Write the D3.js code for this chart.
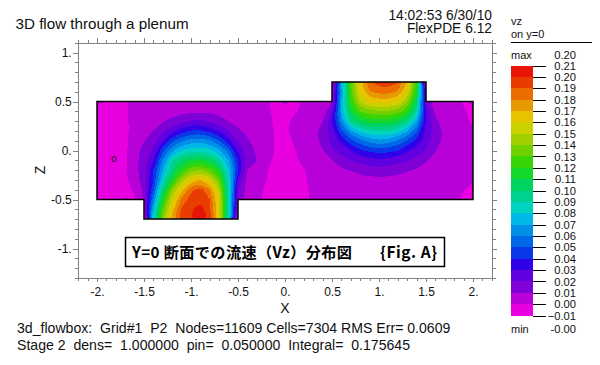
<!DOCTYPE html>
<html>
<head>
<meta charset="utf-8">
<script src="https://cdn.jsdelivr.net/npm/d3@7"></script>
<style>
	body { margin: 0; background: #fff; }
	text { font-family: "Liberation Sans", Arial, sans-serif; fill: #111; white-space: pre; }
	.axis path, .axis line { stroke: #808080; stroke-width: 1; shape-rendering: crispEdges; }
	.axis text { font-size: 12px; fill: #111; }
</style>
</head>
<body>
<div id="chart"></div>
<script>
	// vz on y=0, one row per z from 0.7 down to -0.7, x from -2 to 2 by 0.1
	var xGrid = d3.range(41).map(function(i){ return -2 + i / 10; });
	var zGrid = d3.range(15).map(function(j){ return 0.7 - j / 10; });
	var vz = [
		[0,0,0,0,0, 0,0,0,0,0,0,0,0,0,0, 0,0,0,0,0,0,0,0,0,0, .006,.073,.133,.167,.189,.196,.197,.192,.17,.127, .015,0,0,0,0,0],
		[0,0,0,0,0, 0,0,0,0,0,0,0,0,0,0, 0,0,0,0,0,0,0,0,0,0, .006,.068,.125,.161,.179,.184,.184,.179,.16,.117, .015,0,0,0,0,0],
		[.001,-.001,-.002,-.0005,.001, .002,.002,.003,.003,.003,.004,.004,.004,.003,.003, .003,.002,.002,.0005,-.001,.001,-.001,.0002,.001,-.001, .009,.07,.123,.152,.163,.165,.165,.161,.143,.105, .018,.002,.002,.001,-.0005,.001],
		[-.002,-.002,-.002,-.0005,.001, .002,.003,.004,.005,.007,.008,.0085,.008,.007,.006, .005,.004,.002,.0005,-.0005,-.001,-.0005,.001,.001,.004, .021,.072,.11,.131,.137,.139,.139,.135,.122,.092, .03,.007,.003,.001,.0005,-.001],
		[-.002,-.002,-.002,-.0005,.001, .004,.006,.009,.013,.017,.021,.0215,.0185,.0142,.0098, .0068,.0045,.003,.001,-.0005,-.001,.001,.001,.004,.0095, .03,.0645,.097,.1085,.115,.116,.1155,.11,.0995,.0725, .03,.0125,.005,.002,.001,-.001],
		[-.002,-.002,-.002,-.002,.003, .0072,.0102,.0175,.0275,.0345,.041,.042,.0365,.0295,.0195, .0115,.008,.005,.002,-.0005,-.001,.002,.002,.0065,.014, .025,.048,.0685,.0825,.0895,.092,.0905,.084,.072,.0525, .0265,.0165,.0075,.003,.001,.0005],
		[-.002,-.002,-.002,-.002,.005, .0095,.0165,.029,.0465,.0585,.0645,.066,.0615,.0505,.034, .0185,.011,.0068,.002,-.0002,-.003,.001,.002,.006,.013, .0235,.033,.047,.0565,.0645,.068,.066,.0585,.0495,.037, .025,.0155,.007,.003,.001,.001],
		[-.002,-.002,-.002,-.002,.007, .0132,.0225,.047,.068,.0805,.0865,.087,.083,.0725,.055, .0285,.0155,.0085,.003,-.0005,-.003,-.0005,.002,.005,.0095, .018,.024,.03,.039,.0425,.045,.0435,.04,.0315,.0255, .0195,.0105,.006,.0025,.001,.001],
		[-.002,-.002,-.002,-.002,.007, .0144,.029,.062,.09,.105,.111,.113,.107,.092,.0705, .039,.017,.01,.002,-.001,-.003,-.001,.002,.0035,.0062, .0098,.0157,.0205,.023,.026,.028,.0265,.0235,.021,.0169, .011,.007,.004,.002,.0005,.0002],
		[-.002,-.002,-.002,-.0005,.006, .017,.04,.071,.1,.12,.137,.14,.132,.115,.08, .042,.01,.003,.0005,-.003,-.004,-.003,-.0005,.002,.0045, .0065,.0085,.0105,.013,.0155,.0167,.016,.0135,.011,.009, .007,.004,.002,.001,.0005,.0005],
		[-.002,-.002,-.002,-.002,.005, .015,.04,.083,.115,.145,.165,.17,.16,.133,.085, .028,.008,.003,.0002,-.004,-.004,-.004,-.001,.002,.003, .004,.005,.006,.0065,.007,.007,.007,.0065,.006,.005, .004,.003,.002,.001,.0005,.0005],
		[-.002,-.002,-.002,-.002,.001, .012,.048,.1,.14,.165,.188,.195,.18,.15,.09, .02,.006,.002,-.001,-.004,-.004,-.004,-.001,.001,.002, .003,.003,.003,.003,.003,.003,.003,.003,.003,.003, .003,.003,.002,.001,.0001,-.001],
		[-.002,-.002,-.002,.001,-.001, .012,.06,.115,.155,.183,.194,.197,.19,.16,.088, .018,.005,.001,-.001,-.003,-.003,-.003,-.001,.0005,.001, .002,.002,.002,.002,.002,.002,.002,.002,.002,.002, .002,.002,.001,.0005,-.0005,-.001],
		[0,0,0,0,.0005, .006,.075,.13,.165,.192,.199,.206,.19,.155,.088, .008,.001,0,0,0,0,0,0,0,0, 0,0,0,0,0,0,0,0,0,0, 0,0,0,0,0,0],
		[0,0,0,0,0, .005,.085,.14,.175,.195,.199,.215,.197,.165,.09, .006,.001,0,0,0,0,0,0,0,0, 0,0,0,0,0,0,0,0,0,0, 0,0,0,0,0,0]
	];

	var levels = [-.01,0,.01,.02,.03,.04,.05,.06,.07,.08,.09,.10,.11,.12,.13,.14,.15,.16,.17,.18,.19,.20];
	var levelColors = ["#e800e0","#b800d8","#8000d8","#6000e0","#3000e8","#0838e8","#0068e8","#0090e8","#00b8e8","#00d4c0","#00d090","#00d460","#14d82c","#38d408","#70d000","#a0d000","#ccd000","#e8c400","#e89800","#ec6c00","#e83c00","#e81408"];
	var legendTicks = [.21,.20,.19,.18,.17,.16,.15,.14,.13,.12,.11,.10,.09,.08,.07,.06,.05,.04,.03,.02,.01,0,-.01];

	// outline of the plenum, x and z
	var plenum = [[-2,.5],[-2,-.5],[-1.5,-.5],[-1.5,-.7],[-.5,-.7],[-.5,-.5],[2,-.5],[2,.5],[1.5,.5],[1.5,.7],[.5,.7],[.5,.5]];

	var xMajor = [-2,-1.5,-1,-.5,0,.5,1,1.5,2];
	var zMajor = [1,.5,0,-.5,-1];
	var xMinor = d3.range(-22, 23).map(function(d){ return d / 10; });
	var zMinor = d3.range(-13, 12).map(function(d){ return d / 10; });

	var wd = 600;
	var ht = 365;

	var svg = d3.select("#chart").append("svg")
		.attr("width", wd)
		.attr("height", ht)
		.style("display", "block");

	var x = d3.scaleLinear().domain([-2.2, 2.2]).range([78.2, 491.8]);
	var z = d3.scaleLinear().domain([1.1, -1.3]).range([42.7, 277.9]);
	var legendY = d3.scaleLinear().domain([.21, -.01]).range([65.5, 315.5]);

	function translate(xIn, yIn){
		return "translate(" + xIn + "," + yIn + ")";
	}

	var outline = d3.line().x(function(d){ return x(d[0]); }).y(function(d){ return z(d[1]); }).curve(d3.curveLinearClosed);

	// contour rings come back in grid cells, round them off through the data scales
	var ringLine = d3.line()
		.x(function(d){ return x(-2 + (d[0] - .5) / 10); })
		.y(function(d){ return z(.7 - (d[1] - .5) / 10); })
		.curve(d3.curveBasisClosed);

	function bandPath(contour){
		return contour.coordinates.map(function(poly){
			return poly.map(function(ring){ return ringLine(ring.slice(0, -1)); }).join("");
		}).join("");
	}

	svg.append("clipPath").attr("id", "inside").append("path").attr("d", outline(plenum));

	var field = svg.append("g").attr("clip-path", "url(#inside)");

	field.append("path")
		.attr("d", outline(plenum))
		.attr("fill", levelColors[0]);

	var contours = d3.contours()
		.size([xGrid.length, zGrid.length])
		.thresholds(levels.slice(1))(d3.merge(vz));

	field.selectAll("path.band")
		.data(contours)
		.enter().append("path")
		.attr("class", "band")
		.attr("d", bandPath)
		.attr("fill-rule", "evenodd")
		.attr("fill", function(d, i){ return levelColors[i + 1]; })
		.attr("shape-rendering", "crispEdges");

	// the two small plot marks
	field.append("text").attr("x", x(-1.82)).attr("y", z(-.117)).attr("text-anchor", "middle")
		.style("font-size", "9.5px").text("0");
	field.append("text").attr("x", x(-.925)).attr("y", z(-.74)).attr("text-anchor", "middle")
		.style("font-size", "9.5px").text("x");

	svg.append("path")
		.attr("d", outline(plenum))
		.attr("fill", "none")
		.attr("stroke", "#000")
		.attr("stroke-width", 1.5);

	// Axes, minor ticks first and the labelled ones on top
	function drawAxis(maker, scale, pos, minorVals, majorVals, minorLen, majorLen, fmt, pad){
		svg.append("g").attr("class", "axis").attr("transform", pos)
			.call(maker(scale).tickValues(minorVals).tickSize(minorLen).tickSizeOuter(0).tickFormat(""));
		svg.append("g").attr("class", "axis").attr("transform", pos)
			.call(maker(scale).tickValues(majorVals).tickSize(majorLen).tickSizeOuter(0).tickFormat(fmt || "").tickPadding(pad || 3));
	}
	function tickLabel(d){
		return d === Math.round(d) ? d + "." : String(d);
	}

	drawAxis(d3.axisBottom, x, translate(0, 277.9), xMinor, xMajor, 3, 4, tickLabel, 6);
	drawAxis(d3.axisTop, x, translate(0, 42.7), xMinor, xMajor, 3, 5);
	drawAxis(d3.axisLeft, z, translate(78.2, 0), zMinor, zMajor, 3, 5, tickLabel, 1.5);
	drawAxis(d3.axisRight, z, translate(491.8, 0), zMinor, zMajor, 4, 5);

	svg.append("text").attr("x", 285).attr("y", 313).attr("text-anchor", "middle").style("font-size", "14px").text("X");
	svg.append("text").attr("transform", translate(45, 170) + "rotate(-90)").attr("text-anchor", "middle").style("font-size", "14px").text("Z");

	// Title and stamps
	svg.append("text").attr("x", 15.5).attr("y", 29).style("font-size", "15.2px").text("3D flow through a plenum");
	svg.append("text").attr("x", 492).attr("y", 19.5).attr("text-anchor", "end").style("font-size", "13.8px").text("14:02:53 6/30/10");
	svg.append("text").attr("x", 492).attr("y", 33).attr("text-anchor", "end").style("font-size", "13.8px").text("FlexPDE 6.12");

	svg.append("text").attr("x", 17).attr("y", 333).style("font-size", "14.1px")
		.text("3d_flowbox:  Grid#1  P2  Nodes=11609 Cells=7304 RMS Err= 0.0609");
	svg.append("text").attr("x", 17).attr("y", 349.5).style("font-size", "14.1px")
		.text("Stage 2  dens=  1.000000  pin=  0.050000  Integral=  0.175645");

	// Caption box
	svg.append("rect")
		.attr("x", 125.5).attr("y", 237.5).attr("width", 319).attr("height", 29)
		.attr("fill", "#fff").attr("stroke", "#000").attr("stroke-width", 1.5);
	svg.append("text").attr("x", 132).attr("y", 258)
		.attr("textLength", 220).attr("lengthAdjust", "spacing")
		.style("font-family", '"Noto Sans CJK JP"').style("font-weight", "bold").style("font-size", "15.2px").style("fill", "#000")
		.text("Y=0 断面での流速（Vz）分布図");
	svg.append("text").attr("x", 380).attr("y", 258)
		.attr("textLength", 57).attr("lengthAdjust", "spacing")
		.style("font-family", '"Noto Sans CJK JP"').style("font-weight", "bold").style("font-size", "15.5px").style("fill", "#000")
		.text("{Fig. A}");

	// Legend
	var legend = svg.append("g");
	legend.append("text").attr("x", 511).attr("y", 25).style("font-size", "11px").text("vz");
	legend.append("text").attr("x", 511).attr("y", 37.5).style("font-size", "11px").text("on y=0");
	legend.append("line").attr("x1", 511).attr("x2", 592).attr("y1", 42.5).attr("y2", 42.5)
		.attr("stroke", "#000").attr("shape-rendering", "crispEdges");
	legend.append("text").attr("x", 511).attr("y", 59).style("font-size", "11px").text("max");
	legend.append("text").attr("x", 576).attr("y", 59).attr("text-anchor", "end").style("font-size", "11.2px").text("0.20");
	legend.append("text").attr("x", 511).attr("y", 333).style("font-size", "11px").text("min");
	legend.append("text").attr("x", 576).attr("y", 333).attr("text-anchor", "end").style("font-size", "11.2px").text("-0.00");

	legend.selectAll("rect")
		.data(levels)
		.enter().append("rect")
		.attr("x", 511)
		.attr("width", 22)
		.attr("y", function(d){ return legendY(d + .01); })
		.attr("height", function(d){ return legendY(d) - legendY(d + .01); })
		.attr("fill", function(d, i){ return levelColors[i]; })
		.attr("shape-rendering", "crispEdges");

	var legendAxis = legend.append("g")
		.attr("transform", translate(533, 0))
		.call(d3.axisRight(legendY).tickValues(legendTicks).tickSize(12.5).tickSizeOuter(0).tickFormat(d3.format(".2f")));
	legendAxis.select(".domain").remove();
	legendAxis.selectAll("line").attr("stroke", "#000").attr("shape-rendering", "crispEdges");
	legendAxis.selectAll("text")
		.attr("x", 43).attr("text-anchor", "end")
		.style("font-size", "11.2px");
</script>
</body>
</html>
